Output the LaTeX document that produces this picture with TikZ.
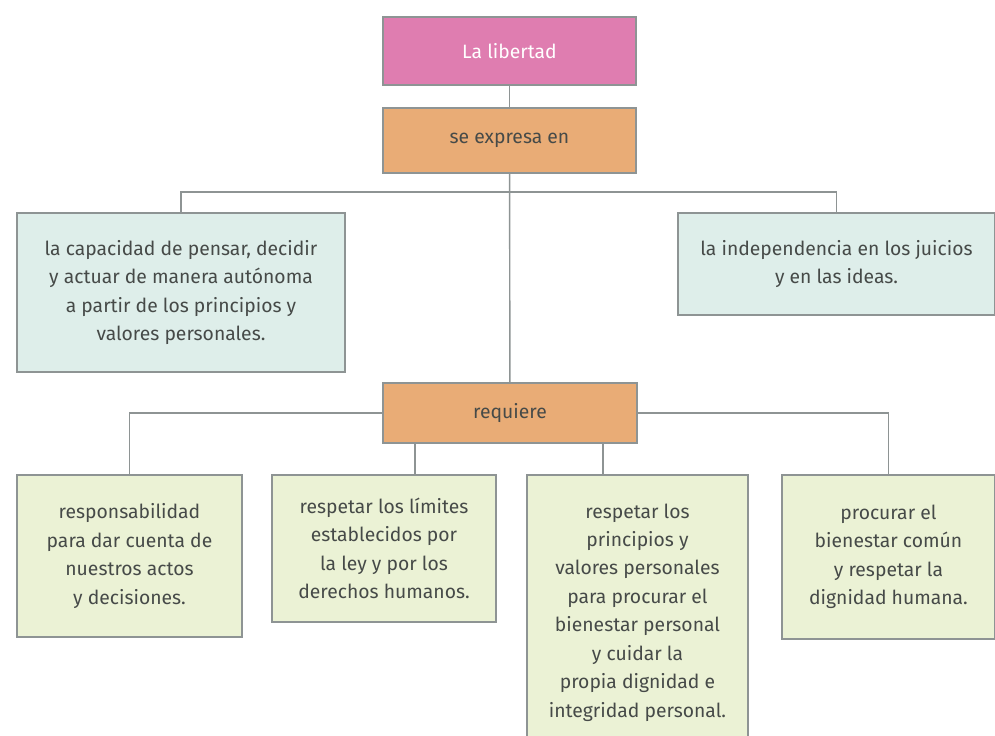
\documentclass[tikz,border=0pt]{standalone}
\usepackage{fontspec}
\setmainfont{Fira Sans}
\usepackage{tikz}
\definecolor{pinkbox}{HTML}{DF7DB0}
\definecolor{orangebox}{HTML}{E9AC76}
\definecolor{bluebox}{HTML}{DEEEEA}
\definecolor{greenbox}{HTML}{EBF2D5}
\definecolor{edgegray}{HTML}{8E9494}
\definecolor{textgray}{HTML}{464A48}
\tikzset{
  box/.style={draw=edgegray,line width=0.8pt,rectangle,inner sep=0pt,align=center,
    text=textgray,font=\fontsize{11}{16.2}\selectfont},
  headbox/.style={box,fill=pinkbox,text=white},
  linkbox/.style={box,fill=orangebox},
  ideabox/.style={box,fill=bluebox},
  needbox/.style={box,fill=greenbox},
  branch/.style={draw=edgegray,line width=0.8pt}
}
\begin{document}
\begin{tikzpicture}[x=0.02cm,y=-0.02cm]
  \useasboundingbox (0,0) rectangle (995,736);
  \clip (0,0) rectangle (995,736);
  \node (lib) at (509.5,51)[headbox,minimum width=5.06cm,minimum height=1.36cm]{La libertad};
  \node (expr) at (509.5,140.5)[linkbox,minimum width=5.06cm,minimum height=1.30cm]{se expresa en};
  \node (cap) at (181,292.5)[ideabox,minimum width=6.56cm,minimum height=3.18cm]{la capacidad de pensar, decidir\\y actuar de manera autónoma\\a partir de los principios y\\valores personales.};
  \node (ind) at (836.5,264)[ideabox,minimum width=6.34cm,minimum height=2.04cm]{la independencia en los juicios\\y en las ideas.};
  \node (req) at (510,413)[linkbox,minimum width=5.08cm,minimum height=1.20cm]{requiere};
  \node (resp) at (129.5,556)[needbox,minimum width=4.50cm,minimum height=3.24cm]{responsabilidad\\para dar cuenta de\\nuestros actos\\y decisiones.};
  \node (lim) at (384,548.5)[needbox,minimum width=4.48cm,minimum height=2.94cm]{respetar los límites\\establecidos por\\la ley y por los\\derechos humanos.};
  \node (prin) at (637.5,612.5)[needbox,minimum width=4.42cm,minimum height=5.50cm]{respetar los\\principios y\\valores personales\\para procurar el\\bienestar personal\\y cuidar la\\propia dignidad e\\integridad personal.};
  \node (bien) at (888.5,557)[needbox,minimum width=4.26cm,minimum height=3.28cm]{procurar el\\bienestar común\\y respetar la\\dignidad humana.};

  \coordinate (e1) at (510,192);
  \coordinate (r2) at (415,443);
  \coordinate (r3) at (603,443);

  \draw[branch](lib)--(expr);
  \draw[branch](expr)--(req);
  \draw[branch](cap.north)|-(e1)-|(ind.north);
  \draw[branch](req.west)-|(resp.north);
  \draw[branch](req.east)-|(bien.north);
  \draw[branch](r2)--(r2 |- lim.north);
  \draw[branch](r3)--(r3 |- prin.north);
\end{tikzpicture}
\end{document}
